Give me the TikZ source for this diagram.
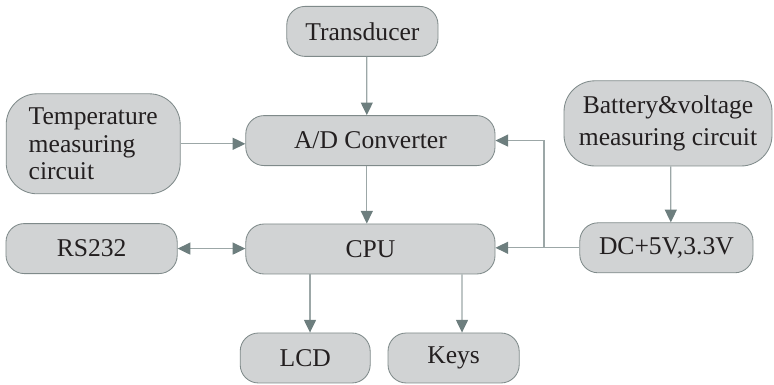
\documentclass[tikz,border=0pt]{standalone}
\usepackage{fontspec}
\setmainfont{Liberation Serif}
\newfontfamily\blockfont{Liberation Serif}
\usepackage{tikz}
\usetikzlibrary{positioning,arrows.meta}

\definecolor{boxfill}{HTML}{D1D3D4}
\definecolor{boxline}{HTML}{7F8A8A}
\definecolor{arrline}{HTML}{9CA7A7}
\definecolor{arrhead}{HTML}{6D7E7E}
\definecolor{txt}{HTML}{231F20}

\begin{document}
\begin{tikzpicture}[
    ->,
    >={Triangle[length=9pt,width=8.5pt,color=arrhead]},
    line width=0.9pt,
    arrline
]

\tikzstyle{block}=[
    draw=boxline,
    line width=0.6pt,
    fill=boxfill,
    rounded corners=13pt,
    text=txt,
    font=\blockfont\fontsize{18.2}{19.6}\selectfont,
    inner sep=2pt,
    minimum height=1.25cm,
    align=center
]

\useasboundingbox (0,0) rectangle (19.35,9.625);

\node[block, minimum width=3.78cm] (trans) at (9.06,8.84) {Transducer};
\node[block, minimum width=6.23cm] (ad) at (9.26,6.11) {A/D Converter};
\node[block, minimum width=6.23cm] (cpu) at (9.26,3.40) {CPU};
\node[block, minimum width=4.35cm, minimum height=2.5cm, rounded corners=22pt, align=left] (temp) at (2.33,6.03) {Temperature\\measuring\\circuit};
\node[block, minimum width=4.28cm] (rs) at (2.29,3.41) {RS232};
\node[block, minimum width=3.25cm] (lcd) at (7.63,0.675) {LCD};
\node[block, minimum width=3.28cm] (keys) at (11.34,0.675) {Keys};
\node[block, minimum width=5.2cm, minimum height=2.13cm, rounded corners=22pt] (bat) at (16.7,6.54) {Battery\&voltage\\[3pt]measuring circuit};
\node[block, minimum width=4.33cm] (dc) at (16.66,3.43) {DC+5V,3.3V};

\coordinate (br) at (13.6,3.43);

\draw ([xshift=0.11cm]trans.south) -- ([xshift=-0.09cm]ad.north);
\draw ([xshift=-0.09cm]ad.south) -- ([xshift=-0.09cm]cpu.north);
\draw (temp.east) -- (temp.east -| ad.west);
\draw[<->] (rs.east) -- (rs.east -| cpu.west);
\draw ([xshift=-1.51cm]cpu.south) -- ([xshift=0.12cm]lcd.north);
\draw ([xshift=2.29cm]cpu.south) -- ([xshift=0.21cm]keys.north);
\draw ([xshift=0.07cm]bat.south) -- ([xshift=0.11cm]dc.north);
\draw[-] (dc.west) -- (br);
\draw (br) -- (br -| cpu.east);
\draw (br) |- (ad.east);

\end{tikzpicture}
\end{document}
